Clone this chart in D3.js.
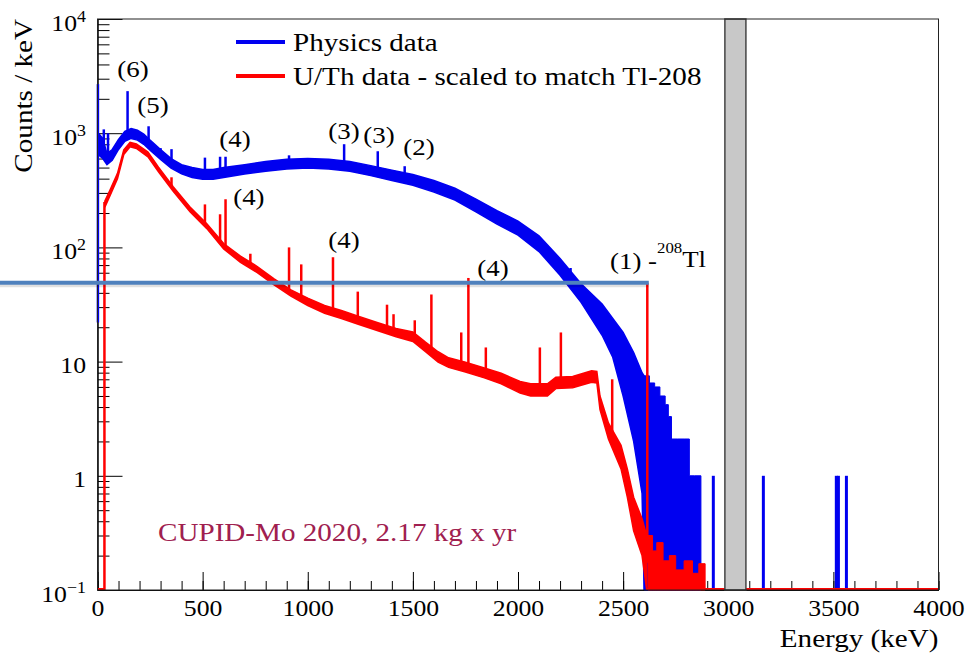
<!DOCTYPE html>
<html lang="en">
<head>
<meta charset="utf-8">
<title>CUPID-Mo energy spectrum</title>
<script src="https://cdn.jsdelivr.net/npm/d3@7"></script>
<style>
  body { margin: 0; background: #fff; }
  svg { font-family: "Liberation Serif", "DejaVu Serif", serif; }
</style>
</head>
<body>
<script>
// ---- data (energies in keV, values in counts / keV) ----
// physics data: lower and upper edge of the noisy band
var blueE  = [4, 25, 45, 70, 100, 130, 160, 190, 220, 250, 300, 350, 400, 450, 500, 550, 600, 700, 800, 900,
              1000, 1100, 1200, 1300, 1400, 1500, 1600, 1700, 1800, 1900, 2000, 2100, 2200, 2300, 2400, 2450,
              2500, 2550, 2590, 2600];
var blueLo = [650, 600, 530, 580, 720, 850, 900, 870, 800, 710, 590, 495, 440, 410, 395, 395, 410, 440, 465, 485,
              495, 485, 465, 425, 385, 350, 305, 260, 205, 160, 128, 92, 57, 33, 17, 11,
              5, 2, 0.7, 0.1];
var blueHi = [1000, 900, 660, 720, 880, 1040, 1100, 1060, 980, 870, 720, 600, 530, 500, 480, 480, 500, 530, 565, 590,
              600, 590, 565, 520, 475, 435, 385, 330, 265, 210, 170, 126, 80, 48, 32, 24,
              18, 12, 8, 7.5];
// physics data above 2600 keV (sparse bins, from the floor)
var blueTailE = [2600, 2625, 2650, 2675, 2700, 2715, 2730, 2760, 2790, 2815, 2840, 2870];
var blueTailV = [7.5, 6.5, 6.0, 5.0, 4.2, 3.3, 2.1, 2.1, 2.1, 1.0, 1.0, 0.1];
var blueEventE = [2929, 3167, 3514, 3524, 3562];
var blueEventV = [1, 1, 1, 1, 1];
// physics data gamma lines
var blueSpikeE   = [30, 50, 143, 243, 300, 352, 511, 583, 609, 911, 1173, 1333, 1461, 2250];
var blueSpikeTop = [1080, 1000, 2335, 1150, 740, 725, 611, 622, 622, 640, 801, 695, 514, 66];
var blueEdgeE = 2, blueEdgeLow = 22, blueEdgeTop = 2690;

// U/Th calibration data scaled to Tl-208
var redE  = [35, 60, 95, 125, 155, 185, 240, 290, 360, 440, 520, 600, 680, 760, 840, 920, 1000, 1080, 1160, 1240,
             1330, 1420, 1500, 1560, 1620, 1670, 1750, 1840, 1920, 2010, 2060, 2140, 2180, 2260, 2350, 2375,
             2390, 2430, 2490, 2520, 2550, 2590, 2612];
var redLo = [225, 285, 400, 650, 760, 735, 620, 460, 310, 205, 146, 97, 74, 60, 47, 37.5, 31, 26.5, 23.8, 21.2,
             18.7, 16.5, 15, 12.2, 9.9, 8.9, 8.1, 7.2, 6.4, 5.3, 5.0, 5.0, 5.8, 5.9, 6.6, 6.5,
             3.8, 2.1, 1.15, 0.65, 0.33, 0.2, 0.1];
var redHi = [255, 320, 445, 715, 830, 805, 685, 505, 340, 226, 161, 108, 84, 68, 53, 42.5, 36, 31, 28, 25,
             22, 19.5, 18.2, 14.8, 12.2, 10.8, 9.9, 8.8, 7.9, 6.7, 6.4, 6.4, 7.3, 7.4, 8.3, 8.2,
             5.0, 2.9, 1.85, 1.15, 0.65, 0.42, 0.3];
var redTailE = [2618, 2640, 2660, 2690, 2720, 2750, 2790, 2830, 2860, 2890];
var redTailV = [0.3, 0.22, 0.26, 0.18, 0.2, 0.15, 0.18, 0.14, 0.17, 0.1];
var redSpikeE   = [352, 511, 583, 609, 727, 911, 969, 1120, 1238, 1377, 1408, 1509, 1588, 1730, 1764, 1847, 2104, 2204, 2448, 2615];
var redSpikeTop = [411, 238, 195, 264, 88, 100, 71, 82, 41, 31.5, 26, 23, 38.7, 18, 54, 13.3, 13.3, 18, 7, 49];
var redEdgeE = 33, redEdgeTop = 250;

// 0nubb region of interest (grey band)
var roiE = [2984, 3084];
var tlPeakE = 2615, tlPeakV = 49;

// axes
var xTicks = [0, 500, 1000, 1500, 2000, 2500, 3000, 3500, 4000];
var yTicks = [0.1, 1, 10, 100, 1000, 10000];
var yTickBase = ["10", "1", "10", "10", "10", "10"];
var yTickExp  = ["\u22121", "", "", "2", "3", "4"];

// peak annotations (energy, counts of text baseline)
var peakLabels = [
  ["(6)", 169, 3100], ["(5)", 264, 1500], ["(4)", 654, 757], ["(4)", 720, 235],
  ["(3)", 1172, 889], ["(3)", 1339, 820], ["(2)", 1529, 644], ["(4)", 1172, 99], ["(4)", 1881, 56]
];

// ---- drawing ----
var width = 967, height = 655, SX = 1.12;
var svg = d3.select("body").append("svg").attr("width", width).attr("height", height);

var x = d3.scaleLinear().domain([0, 4000]).range([97.5, 938.5]);
var y = d3.scaleLog().domain([0.1, 1e4]).range([590, 19]);
var floorY = y(0.1);

function txt(px, py, str, size, anchor, color) {
  return svg.append("text")
    .attr("transform", "translate(" + px + "," + py + ") scale(" + SX + ",1)")
    .attr("text-anchor", anchor || "start")
    .attr("font-size", size)
    .attr("fill", color || "#000")
    .text(str);
}

function logInterp(E, es, vs) {
  if (E <= es[0]) return vs[0];
  if (E >= es[es.length - 1]) return vs[vs.length - 1];
  var i = d3.bisectRight(es, E);
  var t = (E - es[i - 1]) / (es[i] - es[i - 1]);
  return Math.pow(10, Math.log10(vs[i - 1]) * (1 - t) + Math.log10(vs[i]) * t);
}

// axes ticks (inside the frame)
var xMinor = d3.axisBottom(x).tickValues(d3.range(0, 4001, 100)).tickSizeInner(-9).tickSizeOuter(0).tickFormat("");
var xMajor = d3.axisBottom(x).tickValues(xTicks).tickSizeInner(-18).tickSizeOuter(0).tickPadding(10).tickFormat(d3.format("d"));
svg.append("g").attr("transform", "translate(0," + floorY + ")").call(xMinor);
var gx = svg.append("g").attr("transform", "translate(0," + floorY + ")").call(xMajor);
gx.selectAll("text").attr("font-size", 23).attr("font-family", "Liberation Serif, serif")
  .attr("fill", "#000").attr("transform", "scale(" + SX + ",1)");

var yMinorVals = [];
for (var d = -1; d < 4; d++) for (var m = 2; m < 10; m++) yMinorVals.push(m * Math.pow(10, d));
var yMinor = d3.axisLeft(y).tickValues(yMinorVals).tickSizeInner(-12).tickSizeOuter(0).tickFormat("");
var yMajor = d3.axisLeft(y).tickValues(yTicks).tickSizeInner(-25).tickSizeOuter(0).tickFormat("");
svg.append("g").attr("transform", "translate(" + x(0) + ",0)").call(yMinor);
svg.append("g").attr("transform", "translate(" + x(0) + ",0)").call(yMajor);
svg.selectAll(".tick line").attr("stroke", "#000");
svg.selectAll(".domain").attr("stroke", "#000");

yTicks.forEach(function(v, i) {
  var hasExp = yTickExp[i] !== "";
  var t = txt(86, y(v) + (hasExp ? 12 : 11), "", 23, "end");
  t.append("tspan").text(yTickBase[i]);
  if (hasExp) t.append("tspan").attr("font-size", 16).attr("dy", -9).text(yTickExp[i]);
});

// physics data
var bandArea = d3.area()
  .x(function(d) { return x(d[0]); })
  .y0(function(d) { return y(d[1]); })
  .y1(function(d) { return y(d[2]); });
var tailArea = d3.area().curve(d3.curveStepAfter)
  .x(function(d) { return x(d[0]); })
  .y0(floorY)
  .y1(function(d) { return y(d[1]); });

var blueC = "#0000f0", redC = "#ff0000";
var blueMid = blueLo.map(function(v, i) { return Math.sqrt(v * blueHi[i]); });
var redMid = redLo.map(function(v, i) { return Math.sqrt(v * redHi[i]); });

svg.append("path").datum(d3.zip(blueE, blueLo, blueHi)).attr("d", bandArea)
  .attr("fill", blueC).attr("stroke", blueC).attr("stroke-width", 1.5);
svg.append("path").datum(d3.zip(blueTailE, blueTailV)).attr("d", tailArea)
  .attr("fill", blueC).attr("stroke", blueC).attr("stroke-width", 1);
svg.append("g").selectAll("line").data(d3.zip(blueSpikeE, blueSpikeTop)).join("line")
  .attr("x1", function(d) { return x(d[0]); }).attr("x2", function(d) { return x(d[0]); })
  .attr("y1", function(d) { return y(d[1]); })
  .attr("y2", function(d) { return y(logInterp(d[0], blueE, blueMid)); })
  .attr("stroke", blueC).attr("stroke-width", 2.5);
svg.append("line").attr("x1", x(blueEdgeE)).attr("x2", x(blueEdgeE))
  .attr("y1", y(blueEdgeTop)).attr("y2", y(blueEdgeLow)).attr("stroke", blueC).attr("stroke-width", 2.5);
svg.append("g").selectAll("line").data(d3.zip(blueEventE, blueEventV)).join("line")
  .attr("x1", function(d) { return x(d[0]); }).attr("x2", function(d) { return x(d[0]); })
  .attr("y1", function(d) { return y(d[1]); }).attr("y2", floorY)
  .attr("stroke", blueC).attr("stroke-width", 3);

// U/Th data
svg.append("path").datum(d3.zip(redE, redLo, redHi)).attr("d", bandArea)
  .attr("fill", redC).attr("stroke", redC).attr("stroke-width", 1.5);
svg.append("path").datum(d3.zip(redTailE, redTailV)).attr("d", tailArea)
  .attr("fill", redC).attr("stroke", redC).attr("stroke-width", 1);
svg.append("g").selectAll("line").data(d3.zip(redSpikeE, redSpikeTop)).join("line")
  .attr("x1", function(d) { return x(d[0]); }).attr("x2", function(d) { return x(d[0]); })
  .attr("y1", function(d) { return y(d[1]); })
  .attr("y2", function(d) { return y(logInterp(d[0], redE, redMid)); })
  .attr("stroke", redC).attr("stroke-width", 2.5);
svg.append("line").attr("x1", x(redEdgeE)).attr("x2", x(redEdgeE))
  .attr("y1", y(redEdgeTop)).attr("y2", floorY).attr("stroke", redC).attr("stroke-width", 2.5);
// empty bins drawn on the floor
[[0, redEdgeE], [redE[redE.length - 1], 4000]].forEach(function(r) {
  svg.append("line").attr("x1", x(r[0])).attr("x2", x(r[1]))
    .attr("y1", floorY - 1).attr("y2", floorY - 1).attr("stroke", redC).attr("stroke-width", 2);
});

// ROI band
svg.append("rect").attr("x", x(roiE[0])).attr("y", y(1e4))
  .attr("width", x(roiE[1]) - x(roiE[0])).attr("height", floorY - y(1e4))
  .attr("fill", "#c8c8c8").attr("stroke", "#444").attr("stroke-width", 1.5);

// frame
svg.append("rect").attr("x", x(0)).attr("y", y(1e4))
  .attr("width", x(4000) - x(0)).attr("height", floorY - y(1e4))
  .attr("fill", "none").attr("stroke", "#222").attr("stroke-width", 1);

// axis titles
txt(x(4000), 647, "Energy (keV)", 26, "end");
svg.append("text")
  .attr("transform", "translate(32," + y(1e4) + ") rotate(-90) scale(" + SX + ",1)")
  .attr("text-anchor", "end").attr("font-size", 26).text("Counts / keV");

// legend
svg.append("line").attr("x1", 236).attr("x2", 285).attr("y1", 42).attr("y2", 42)
  .attr("stroke", blueC).attr("stroke-width", 4);
txt(293, 51, "Physics data", 26);
svg.append("line").attr("x1", 236).attr("x2", 285).attr("y1", 76).attr("y2", 76)
  .attr("stroke", redC).attr("stroke-width", 4);
txt(293, 85, "U/Th data - scaled to match Tl-208", 26);

// peak labels
peakLabels.forEach(function(p) { txt(x(p[1]), y(p[2]), p[0], 24, "middle"); });
var tl = txt(610, 269, "", 24, "start");
tl.append("tspan").text("(1) -");
tl.append("tspan").attr("font-size", 15).attr("dy", -16).text("208");
tl.append("tspan").attr("dy", 14).text("Tl");

txt(158, 541, "CUPID-Mo 2020, 2.17 kg x yr", 26, "start", "#a0204f");

// overlaid marker line at the Tl-208 peak height
svg.append("line").attr("x1", 0).attr("x2", x(tlPeakE) + 1.5)
  .attr("y1", y(tlPeakV) + 3).attr("y2", y(tlPeakV) + 3)
  .attr("stroke", "#000").attr("stroke-opacity", 0.12).attr("stroke-width", 3);
svg.append("line").attr("x1", 0).attr("x2", x(tlPeakE) + 1.5)
  .attr("y1", y(tlPeakV)).attr("y2", y(tlPeakV))
  .attr("stroke", "#4f81bd").attr("stroke-width", 4);
</script>
</body>
</html>
